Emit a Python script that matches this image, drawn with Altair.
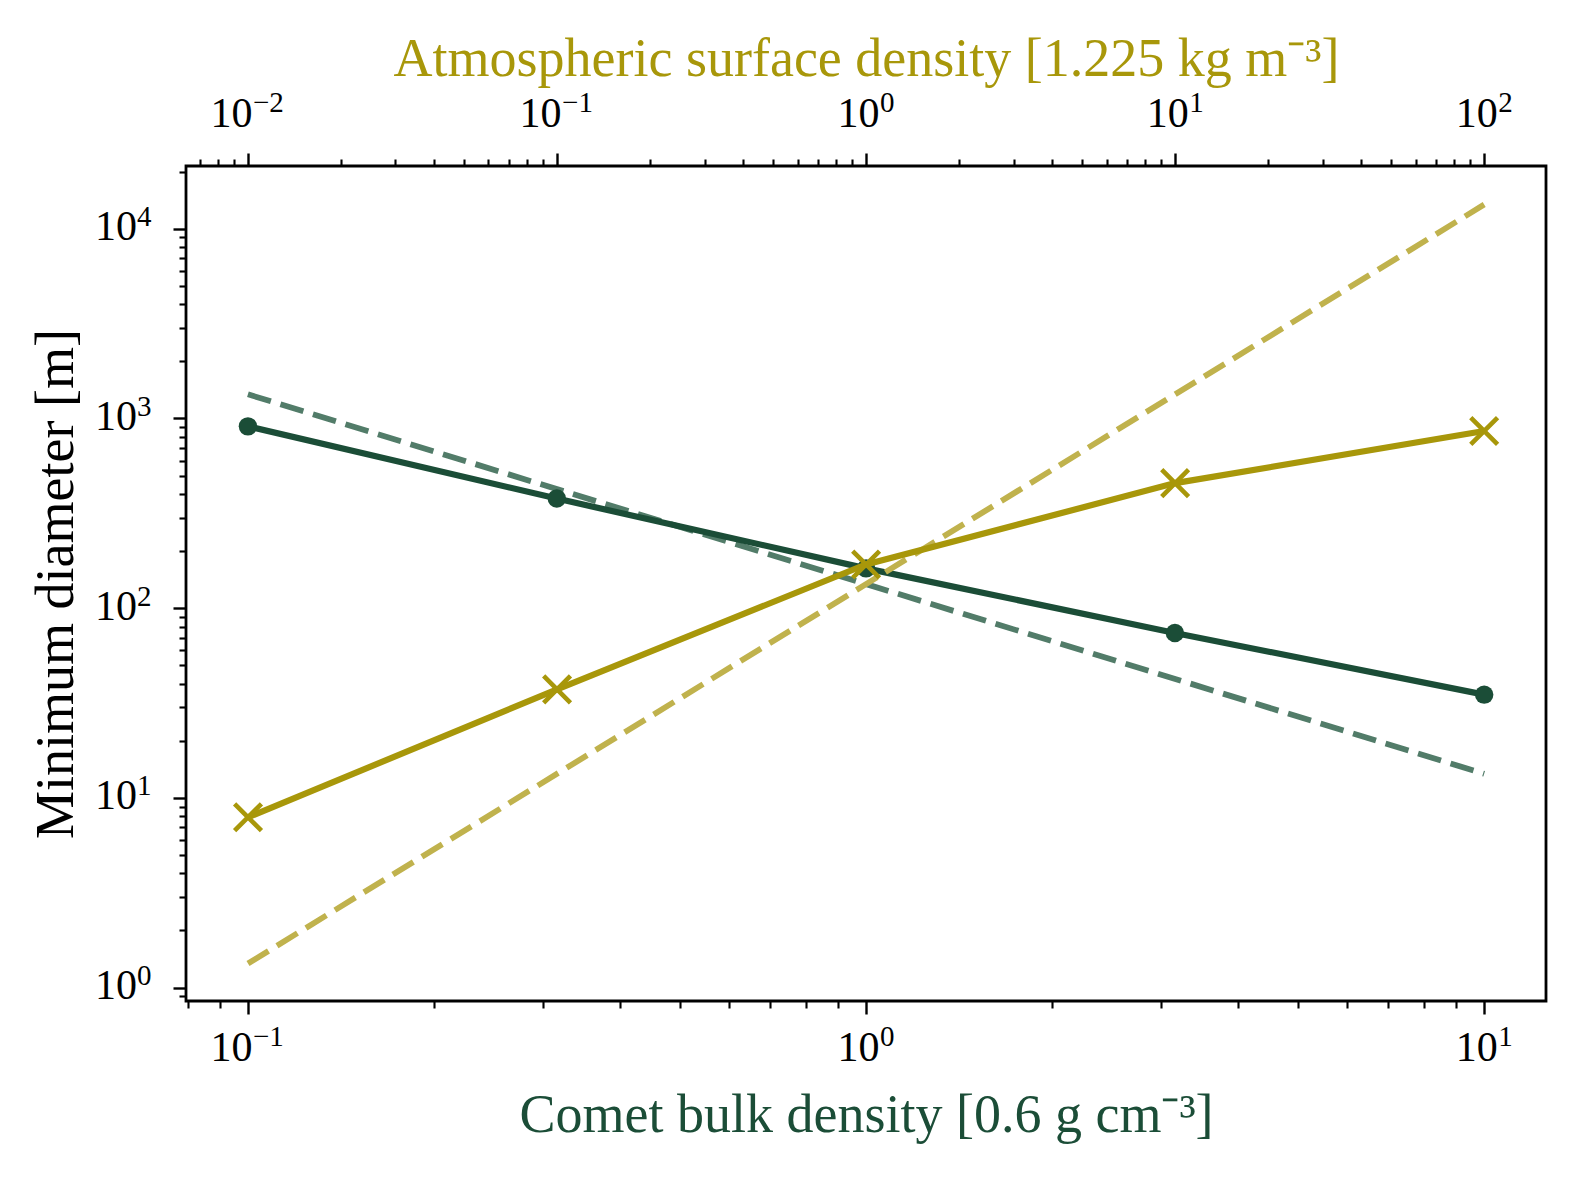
import altair as alt
import pandas as pd

# ---- data ----
comet_density = [0.1, 0.316, 1.0, 3.16, 10.0]        # bottom axis [0.6 g cm^-3]
comet_diameter = [908, 378, 162, 74, 35]              # m
atm_density = [0.01, 0.1, 1.0, 10.0, 100.0]           # top axis [1.225 kg m^-3]
atm_diameter = [7.9, 37.3, 170, 456, 858]             # m
comet_ref_density = [0.1, 10.0]
comet_ref_diameter = [1340, 13.4]
atm_ref_density = [0.01, 100.0]
atm_ref_diameter = [1.34, 13400]

# tick values and their labels ("10" with a superscript exponent)
bottom_ticks = [0.1, 1, 10]
bottom_exps = ["−1", "0", "1"]
top_ticks = [0.01, 0.1, 1, 10, 100]
top_exps = ["−2", "−1", "0", "1", "2"]
y_ticks = [1, 10, 100, 1000, 10000]
y_exps = ["0", "1", "2", "3", "4"]

bottom_minor = [0.08, 0.09] + [k / 10 for k in range(2, 10)] + [float(k) for k in range(2, 10)]
top_minor = [0.007, 0.008, 0.009] + [k * 0.01 for k in range(2, 10)] + [k * 0.1 for k in range(2, 10)] \
    + [float(k) for k in range(2, 10)] + [float(k * 10) for k in range(2, 10)]
y_minor = [0.9] + [k * 10.0 ** e for e in range(0, 4) for k in range(2, 10)] + [20000.0]

GREEN = "#1b4d37"
OLIVE = "#a8970a"
GREEN_DASH = "#527c69"
OLIVE_DASH = "#c0b24d"
FONT = "Liberation Serif"
BASE_SIZE = 42
EXP_SIZE = 29
TITLE_SIZE = 54
W, H = 1360, 835

comet = pd.DataFrame({"x": comet_density, "y": comet_diameter})
atm = pd.DataFrame({"x": atm_density, "y": atm_diameter})
comet_ref = pd.DataFrame({"x": comet_ref_density, "y": comet_ref_diameter})
atm_ref = pd.DataFrame({"x": atm_ref_density, "y": atm_ref_diameter})
bottom_lab = pd.DataFrame({"v": bottom_ticks, "exp": bottom_exps})
top_lab = pd.DataFrame({"v": top_ticks, "exp": top_exps})
y_lab = pd.DataFrame({"v": y_ticks, "exp": y_exps})

x_bottom_scale = alt.Scale(type="log", domain=[0.0794, 12.59], nice=False)
x_top_scale = alt.Scale(type="log", domain=[0.0063, 158.5], nice=False)
y_scale = alt.Scale(type="log", domain=[0.85, 21400], nice=False)

common_major = dict(grid=False, domain=False, tickSize=13, tickWidth=2.4, tickColor="black",
                    labels=False, titleFont=FONT, titleFontSize=TITLE_SIZE,
                    titleFontWeight="normal", titleBaseline="alphabetic")
common_minor = dict(grid=False, domain=False, tickSize=7, tickWidth=2.1,
                    tickColor="black", labels=False, title=None)

x_bottom_axis = alt.Axis(orient="bottom", values=bottom_ticks,
                         title="Comet bulk density [0.6 g cm⁻³]",
                         titleColor=GREEN, titleY=130, **common_major)
x_bottom_minor = alt.Axis(orient="bottom", values=bottom_minor, **common_minor)
x_top_axis = alt.Axis(orient="top", values=top_ticks,
                      title="Atmospheric surface density [1.225 kg m⁻³]",
                      titleColor=OLIVE, titleY=-91, **common_major)
x_top_minor = alt.Axis(orient="top", values=top_minor, **common_minor)
y_axis = alt.Axis(orient="left", values=y_ticks, title="Minimum diameter [m]",
                  titleColor="black", titleX=-114, **common_major)
y_minor_axis = alt.Axis(orient="left", values=y_minor, **common_minor)

NEG = "indexof(datum.exp, '−') == 0"
POS = "indexof(datum.exp, '−') < 0"
RAISE = 15


def x_tick_labels(df, scale, y_base):
    """'10' + superscript exponent, centred on each tick, drawn through the x scale."""
    layers = []
    for cond, dx_base, dx_exp in [(POS, 13.5, 14.0), (NEG, 4.5, 5.0)]:
        base = alt.Chart(df).transform_filter(cond).mark_text(
            text="10", font=FONT, fontSize=BASE_SIZE, align="right",
            baseline="alphabetic", color="black", dx=dx_base).encode(
            x=alt.X("v:Q", scale=scale, axis=None), y=alt.value(y_base))
        exp = alt.Chart(df).transform_filter(cond).mark_text(
            font=FONT, fontSize=EXP_SIZE, align="left", baseline="alphabetic",
            color="black", dx=dx_exp).encode(
            x=alt.X("v:Q", scale=scale, axis=None), y=alt.value(y_base - RAISE),
            text="exp:N")
        layers += [base, exp]
    return layers


y_base_lab = alt.Chart(y_lab).mark_text(
    text="10", font=FONT, fontSize=BASE_SIZE, align="right", baseline="alphabetic",
    color="black", dy=11.5).encode(
    x=alt.value(-49), y=alt.Y("v:Q", scale=y_scale, axis=None))
y_exp_lab = alt.Chart(y_lab).mark_text(
    font=FONT, fontSize=EXP_SIZE, align="left", baseline="alphabetic",
    color="black", dy=11.5 - RAISE + 1).encode(
    x=alt.value(-49), y=alt.Y("v:Q", scale=y_scale, axis=None), text="exp:N")

# ---- comet (bottom axis) group ----
g_line = alt.Chart(comet).mark_line(color=GREEN, strokeWidth=6.2).encode(
    x=alt.X("x:Q", scale=x_bottom_scale, axis=x_bottom_axis),
    y=alt.Y("y:Q", scale=y_scale, axis=y_axis),
)
g_pts = alt.Chart(comet).mark_point(shape="circle", filled=True, size=340,
                                    color=GREEN, opacity=1).encode(
    x=alt.X("x:Q", scale=x_bottom_scale, axis=None),
    y=alt.Y("y:Q", scale=y_scale, axis=None),
)
g_dash = alt.Chart(comet_ref).mark_line(color=GREEN_DASH, strokeWidth=5.8,
                                        strokeDash=[24, 10]).encode(
    x=alt.X("x:Q", scale=x_bottom_scale, axis=None),
    y=alt.Y("y:Q", scale=y_scale, axis=None),
)
g_minor = alt.Chart(comet).mark_point(opacity=0).encode(
    x=alt.X("x:Q", scale=x_bottom_scale, axis=x_bottom_minor),
    y=alt.Y("y:Q", scale=y_scale, axis=y_minor_axis),
)
green = alt.layer(g_dash, g_line, g_pts, g_minor, y_base_lab, y_exp_lab,
                  *x_tick_labels(bottom_lab, x_bottom_scale, H + 59.5)).resolve_axis(
    x="independent", y="independent")

# ---- atmosphere (top axis) group ----
o_line = alt.Chart(atm).mark_line(color=OLIVE, strokeWidth=6.2).encode(
    x=alt.X("x:Q", scale=x_top_scale, axis=x_top_axis),
    y=alt.Y("y:Q", scale=y_scale, axis=None),
)
o_pts = alt.Chart(atm).mark_point(shape="M-1,-1L1,1M-1,1L1,-1", filled=False,
                                  size=720, strokeWidth=4.6, color=OLIVE, opacity=1).encode(
    x=alt.X("x:Q", scale=x_top_scale, axis=None),
    y=alt.Y("y:Q", scale=y_scale, axis=None),
)
o_dash = alt.Chart(atm_ref).mark_line(color=OLIVE_DASH, strokeWidth=5.8,
                                      strokeDash=[24, 10]).encode(
    x=alt.X("x:Q", scale=x_top_scale, axis=None),
    y=alt.Y("y:Q", scale=y_scale, axis=None),
)
o_minor = alt.Chart(atm).mark_point(opacity=0).encode(
    x=alt.X("x:Q", scale=x_top_scale, axis=x_top_minor),
    y=alt.Y("y:Q", scale=y_scale, axis=None),
)
olive = alt.layer(o_dash, o_line, o_pts, o_minor,
                  *x_tick_labels(top_lab, x_top_scale, -39)).resolve_axis(x="independent")

chart = alt.layer(green, olive).resolve_scale(x="independent").properties(
    width=W, height=H,
    autosize=alt.AutoSizeParams(type="none"),
    padding={"left": 178, "top": 158, "right": 22, "bottom": 170},
    background="white",
).configure_view(stroke="black", strokeWidth=2.8)

chart.save("out.html", embed_options={"renderer": "svg", "actions": False})
